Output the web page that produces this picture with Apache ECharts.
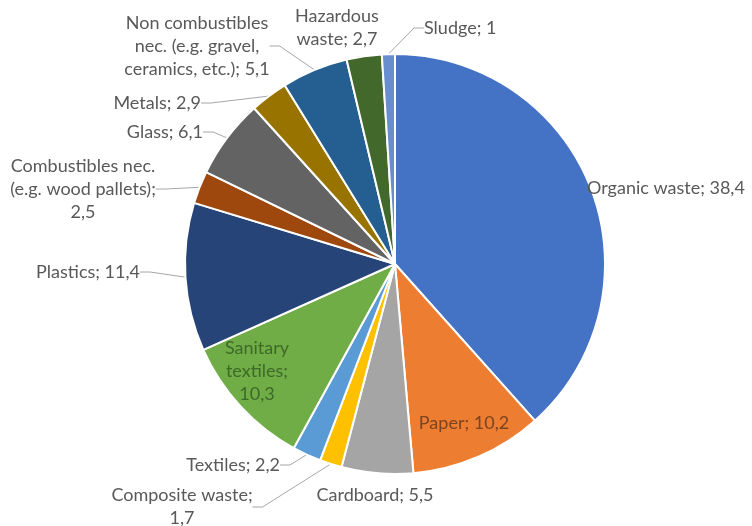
<!DOCTYPE html>
<html>
<head>
<meta charset="utf-8">
<script src="https://cdn.jsdelivr.net/npm/echarts@6/dist/echarts.min.js"></script>
<style>
  html, body { margin: 0; padding: 0; background: #fff; }
  #chart { width: 752px; height: 526px; }
</style>
</head>
<body>
<div id="chart"></div>
<script>
// waste composition, share in %
var categories = ['Organic waste', 'Paper', 'Cardboard', 'Composite waste', 'Textiles',
    'Sanitary\ntextiles', 'Plastics', 'Combustibles nec.\n(e.g. wood pallets)', 'Glass', 'Metals',
    'Non combustibles\nnec. (e.g. gravel,\nceramics, etc.)', 'Hazardous\nwaste', 'Sludge'];
var values = [38.4, 10.2, 5.5, 1.7, 2.2, 10.3, 11.4, 2.5, 6.1, 2.9, 5.1, 2.7, 1];
var valueOnNewLine = [3, 5, 7];

var colors = ['#4472C4', '#ED7D31', '#A5A5A5', '#FFC000', '#5B9BD5', '#70AD47', '#264478',
    '#9E480E', '#636363', '#997300', '#255E91', '#43682B', '#698ED0'];
// where each label sits (x anchor, y middle, alignment), line shown or not, text colour
var labelSpots = [
    { x: 587, y: 188, align: 'left', line: false },
    { x: 464, y: 423, align: 'center', line: false, color: '#7c4420' },
    { x: 375, y: 495, align: 'center', line: false },
    { x: 182, y: 507, align: 'center', line: true },
    { x: 280, y: 465, align: 'right', line: true },
    { x: 257, y: 371, align: 'center', line: false, color: '#3d6a27' },
    { x: 140, y: 272, align: 'right', line: true },
    { x: 83, y: 189, align: 'center', line: true },
    { x: 203, y: 132, align: 'right', line: true },
    { x: 201, y: 103, align: 'right', line: true },
    { x: 197, y: 46, align: 'center', line: true },
    { x: 337, y: 28, align: 'center', line: false },
    { x: 424, y: 28, align: 'left', line: true }
];

var chart = echarts.init(document.getElementById('chart'));
var data = [];
for (var i = 0; i < values.length; i++) {
    data.push({
        name: categories[i],
        value: values[i],
        itemStyle: { color: colors[i] },
        label: { color: labelSpots[i].color || '#595959' },
        labelLine: { show: labelSpots[i].line }
    });
}
var option = {
    animation: false,
    series: [{
        type: 'pie',
        center: [395, 264],
        radius: 210,
        startAngle: 90,
        clockwise: true,
        avoidLabelOverlap: false,
        itemStyle: { borderColor: '#fff', borderWidth: 2 },
        label: {
            show: true,
            position: 'outside',
            fontFamily: 'Lato',
            fontSize: 18,
            lineHeight: 23,
            color: '#595959',
            formatter: function (p) {
                var sep = valueOnNewLine.indexOf(p.dataIndex) >= 0 ? ';\n' : '; ';
                return p.name + sep + String(p.value).replace('.', ',');
            }
        },
        labelLine: { lineStyle: { color: '#A6A6A6', width: 1 }, length: 10, length2: 10 },
        labelLayout: function (params) {
            var s = labelSpots[params.dataIndex];
            return { x: s.x, y: s.y, align: s.align, verticalAlign: 'middle' };
        },
        data: data
    }]
};
chart.setOption(option);
</script>
</body>
</html>
